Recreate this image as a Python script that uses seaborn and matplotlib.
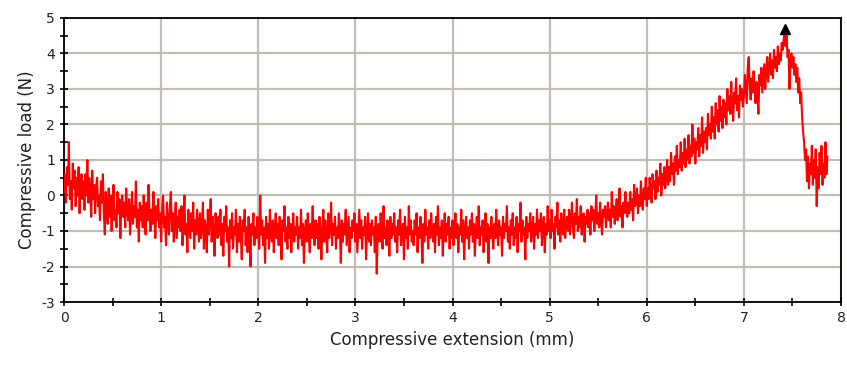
import numpy as np
import pandas as pd
import seaborn as sns
import matplotlib.pyplot as plt
from matplotlib.ticker import MultipleLocator

# compressive load (N), every 0.01 mm starting at 0 mm
# (one row = 0.2 mm of extension)
load_n = [
    0.1, 0.6, -0.2, 0.8, 0.3, 1.5, -0.1, 0.4, -0.4, 0.9, 0.2, 0.7, -0.3, 0.5, 0.0, 0.8, -0.5, 0.3, 0.6, -0.1,
    0.4, -0.4, 0.6, 0.0, 1.0, -0.2, 0.5, 0.1, -0.6, 0.7, -0.1, 0.3, -0.5, 0.2, 0.5, -0.3, 0.0, -0.7, 0.4, -0.2,
    0.6, -0.5, -1.1, 0.1, -0.3, -0.8, 0.2, -0.6, 0.0, -1.0, -0.2, 0.3, -0.7, -0.4, -0.9, 0.1, -0.5, -0.1, -1.2, -0.3,
    0.0, -0.6, -0.2, -0.9, 0.2, -0.4, -0.7, -0.1, -1.1, -0.5, 0.1, -0.8, -0.3, -0.6, 0.4, -0.9, -0.4, -1.3, -0.2, -0.7,
    -0.3, -0.9, 0.0, -0.6, -1.1, -0.2, -0.7, 0.3, -0.5, -1.0, -0.4, -0.8, 0.1, -0.6, -1.2, -0.3, -0.7, -0.1, -0.9, -0.5,
    -1.3, -0.4, 0.0, -0.9, -0.6, -1.4, -0.2, -0.8, -1.1, -0.3, 0.1, -1.0, -0.5, -1.3, -0.7, -0.2, -1.2, -0.6, -0.9, -0.4,
    -1.0, -0.3, -1.4, -0.6, 0.0, -1.1, -0.8, -1.6, -0.4, -0.9, -1.2, -0.5, -1.0, -0.2, -1.5, -0.7, -1.1, -0.4, -0.8, -1.3,
    -0.5, -1.2, -0.9, -0.2, -1.5, -0.7, -1.0, -1.6, -0.4, -1.1, -0.8, -0.1, -1.3, -0.6, -1.0, -1.7, -0.5, -0.9, -1.2, -0.6,
    -1.1, -0.4, -1.4, -0.8, -1.7, -0.6, -1.0, -0.3, -1.3, -0.9, -2.0, -0.7, -1.2, -0.5, -1.5, -0.9, -1.1, -0.4, -1.6, -0.8,
    -1.3, -0.6, -1.1, -1.8, -0.7, -1.0, -0.4, -1.4, -0.9, -1.6, -0.6, -1.2, -2.0, -0.8, -1.1, -0.5, -1.4, -0.9, -1.2, -0.6,
    -1.0, -1.5, 0.0, -1.1, -0.7, -1.4, -0.9, -1.9, -0.6, -1.2, -0.8, -1.5, -0.4, -1.1, -1.3, -0.7, -1.6, -0.9, -0.5, -1.2,
    -0.8, -1.4, -0.6, -1.1, -1.8, -0.7, -1.0, -0.3, -1.3, -0.9, -1.5, -0.6, -1.2, -0.8, -1.6, -1.0, -0.5, -1.3, -0.9, -1.1,
    -0.6, -1.5, -0.9, -1.2, -0.4, -1.4, -0.8, -1.9, -1.0, -0.7, -1.3, -0.5, -1.1, -1.6, -0.8, -1.2, -0.3, -1.0, -1.4, -0.7,
    -1.2, -0.8, -1.5, -0.6, -1.0, -1.8, -0.9, -0.4, -1.3, -0.7, -1.1, -1.6, -0.5, -1.2, -0.9, -0.2, -1.4, -0.8, -1.1, -0.6,
    -1.5, -0.9, -1.2, -0.5, -1.0, -1.9, -0.7, -1.3, -0.8, -1.1, -0.4, -1.4, -1.0, -0.6, -1.6, -0.9, -1.2, -0.7, -1.0, -0.5,
    -1.3, -0.8, -1.6, -1.0, -0.4, -1.2, -0.7, -1.5, -0.9, -1.1, -0.6, -1.8, -1.0, -0.5, -1.3, -0.8, -1.4, -0.7, -1.1, -0.9,
    -1.6, -0.6, -2.2, -1.0, -0.8, -1.3, -0.5, -1.1, -1.5, -0.3, -1.2, -0.9, -1.4, -0.7, -1.0, -1.7, -0.6, -1.2, -0.8, -1.1,
    -0.5, -1.3, -0.9, -1.6, -0.7, -1.1, -0.4, -1.4, -1.0, -0.8, -1.8, -0.6, -1.2, -0.9, -1.5, -0.3, -1.1, -0.7, -1.3, -1.0,
    -1.4, -0.7, -1.1, -0.5, -1.6, -0.9, -1.2, -0.6, -1.0, -1.9, -0.8, -1.3, -0.4, -1.1, -0.9, -1.5, -0.7, -1.2, -0.5, -1.0,
    -1.3, -0.8, -1.6, -0.6, -1.1, -0.3, -1.4, -0.9, -1.2, -0.7, -1.7, -1.0, -0.5, -1.3, -0.8, -1.1, -0.6, -1.5, -0.9, -1.2,
    -0.7, -1.4, -1.0, -0.5, -1.2, -0.8, -1.6, -0.9, -1.1, -0.4, -1.3, -0.7, -1.8, -1.0, -0.6, -1.2, -0.9, -1.5, -0.7, -1.1,
    -0.5, -1.3, -0.8, -1.7, -1.0, -0.6, -1.2, -0.3, -1.4, -0.9, -1.1, -0.7, -1.6, -1.0, -0.5, -1.3, -0.8, -1.9, -0.9, -1.2,
    -0.6, -1.1, -1.5, -0.8, -1.2, -0.4, -1.0, -1.4, -0.7, -1.1, -0.9, -1.7, -0.6, -1.2, -0.8, -1.0, -0.3, -1.3, -0.9, -1.5,
    -0.7, -1.1, -0.5, -1.4, -0.9, -1.2, -0.6, -1.6, -0.8, -1.0, -0.2, -1.3, -0.7, -1.1, -0.9, -1.8, -0.6, -1.2, -0.8, -1.0,
    -0.5, -1.3, -0.9, -0.6, -1.5, -0.8, -1.1, -0.4, -1.2, -0.7, -1.0, -0.5, -1.4, -0.9, -0.6, -1.6, -0.8, -1.1, -0.3, -1.0,
    -0.7, -1.2, -0.4, -1.0, -0.8, -1.5, -0.6, -0.9, -0.2, -1.1, -0.7, -1.3, -0.5, -0.9, -1.1, -0.4, -1.2, -0.8, -0.6, -1.0,
    -0.4, -1.1, -0.7, -0.2, -0.9, -1.2, -0.5, -0.8, -0.1, -1.0, -0.6, -0.9, -0.3, -1.1, -0.7, -0.5, -1.3, -0.6, -0.8, -0.4,
    -0.9, -0.5, -1.1, -0.3, -0.7, -0.4, -1.0, -0.6, 0.0, -0.8, -0.5, -0.9, -0.2, -0.7, -1.1, -0.4, -0.6, -0.3, -0.9, -0.5,
    -0.2, -0.7, -0.4, -0.9, 0.1, -0.6, -0.3, -0.8, -0.5, -0.1, -0.7, -0.4, 0.2, -0.6, -0.3, -0.9, -0.2, -0.5, 0.1, -0.4,
    -0.6, -0.2, -0.5, 0.1, -0.4, -0.1, -0.7, 0.3, -0.3, -0.2, 0.2, -0.5, 0.0, -0.3, 0.4, -0.2, -0.4, 0.2, -0.1, 0.5,
    -0.3, 0.2, -0.1, 0.5, 0.0, -0.2, 0.6, 0.2, 0.4, -0.1, 0.7, 0.1, 0.5, 0.3, 0.9, 0.0, 0.6, 0.3, 0.8, 0.2,
    0.5, 1.0, 0.3, 0.8, 0.4, 1.2, 0.6, 0.9, 0.3, 1.1, 0.7, 1.4, 0.6, 1.0, 0.8, 1.5, 0.7, 1.2, 0.9, 1.6,
    0.8, 1.3, 1.0, 1.7, 0.9, 1.4, 1.1, 2.0, 1.2, 1.6, 0.9, 1.5, 1.3, 1.9, 1.1, 1.7, 1.4, 2.2, 1.2, 1.8,
    1.5, 1.9, 1.3, 2.3, 1.7, 2.0, 1.6, 2.5, 1.8, 2.2, 1.6, 2.6, 2.0, 2.4, 1.8, 2.8, 2.1, 2.5, 1.9, 2.7,
    2.2, 2.6, 2.0, 3.0, 2.4, 2.8, 2.3, 3.2, 2.5, 2.1, 2.9, 2.6, 3.3, 2.4, 2.8, 2.2, 3.1, 2.7, 3.0, 2.5,
    2.8, 3.4, 3.0, 2.6, 3.6, 3.9, 3.1, 2.7, 3.3, 2.9, 3.5, 3.0, 2.6, 3.2, 2.8, 2.3, 3.4, 3.1, 3.6, 2.9,
    3.3, 3.7, 3.0, 3.5, 3.9, 3.2, 3.6, 4.0, 3.4, 3.8, 3.3, 4.1, 3.6, 3.9, 3.5, 4.2, 3.7, 4.0, 3.8, 4.3,
    4.1, 4.4, 4.6, 4.2, 4.5, 3.9, 4.1, 3.0, 3.8, 4.0, 3.6, 3.9, 3.4, 3.7, 3.2, 3.6, 2.9, 3.3, 2.6, 2.9,
    2.2, 1.8, 1.5, 1.0, 1.3, 0.4, 1.1, 0.2, 0.9, 0.6, 1.4, 0.3, 1.0, 0.5, 1.3, -0.3, 0.8, 0.2, 1.2, 0.6,
    1.4, 0.3, 0.9, 0.5, 1.5, 0.6, 1.1,
]
sample_step_mm = 0.01
extension_mm = np.round(np.arange(len(load_n)) * sample_step_mm, 2)

df = pd.DataFrame({'extension': extension_mm, 'load': load_n})
peak = df.loc[df['load'].idxmax()]

sns.set_style('white')
plt.rcParams['font.family'] = ['DejaVu Sans']
plt.rcParams['axes.unicode_minus'] = False

fig = plt.figure(figsize=(8.47, 3.65), dpi=100)
ax = fig.add_axes([0.0756, 0.1726, 0.9173, 0.7781])

sns.lineplot(data=df, x='extension', y='load', ax=ax, color='#ff0000',
             linewidth=1.5, sort=False, estimator=None, zorder=3)
ax.plot(peak['extension'], peak['load'] + 0.1, marker='^', color='black',
        markersize=7, linestyle='none', zorder=4)

ax.set_xlim(0, 8)
ax.set_ylim(-3, 5)
ax.xaxis.set_major_locator(MultipleLocator(1))
ax.xaxis.set_minor_locator(MultipleLocator(0.5))
ax.yaxis.set_major_locator(MultipleLocator(1))
ax.yaxis.set_minor_locator(MultipleLocator(0.5))
ax.grid(True, which='major', color='#c2beb4', linewidth=1.6)
ax.tick_params(which='both', direction='inout', length=6, width=1.2,
               color='black', labelsize=10, labelcolor='#222222',
               bottom=True, left=True)
for s in ax.spines.values():
    s.set_color('black')
    s.set_linewidth(1.3)

ax.set_xlabel('Compressive extension (mm)', fontsize=12, color='#222222')
ax.set_ylabel('Compressive load (N)', fontsize=12, color='#222222')

fig.savefig('out.png', dpi=100)
